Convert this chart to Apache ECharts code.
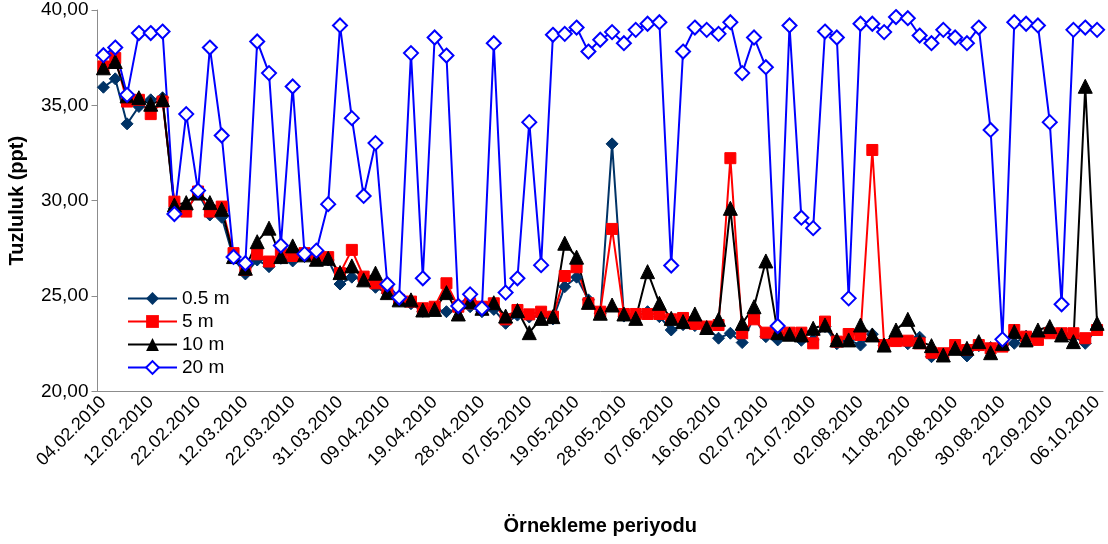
<!DOCTYPE html>
<html><head><meta charset="utf-8">
<script src="https://cdn.jsdelivr.net/npm/echarts@6/dist/echarts.min.js"></script>
<style>html,body{margin:0;padding:0;background:#fff}#c{width:1108px;height:544px}</style>
</head><body><div id="c"></div>
<script>
// tick labels shown every 4th sampling
const tickLabels = ['04.02.2010','12.02.2010','22.02.2010','12.03.2010','22.03.2010','31.03.2010','09.04.2010','19.04.2010','28.04.2010','07.05.2010','19.05.2010','28.05.2010','07.06.2010','16.06.2010','02.07.2010','21.07.2010','02.08.2010','11.08.2010','20.08.2010','30.08.2010','22.09.2010','06.10.2010'];
const seriesNames = ['0.5 m','5 m','10 m','20 m'];
const d05 = [35.95,36.39,34.03,34.94,35.29,35.40,29.60,29.50,30.40,29.25,29.13,26.98,26.16,26.89,26.54,26.98,26.84,27.07,26.89,26.89,25.63,25.99,25.85,25.46,25.15,24.75,24.60,24.20,24.30,24.18,24.30,24.44,24.18,24.30,23.57,24.00,23.90,23.95,23.80,25.49,25.99,24.80,24.10,32.98,23.95,23.90,24.18,23.92,23.22,23.50,23.45,23.35,22.79,23.05,22.56,23.90,22.87,22.70,23.00,22.68,22.70,23.40,22.50,22.70,22.43,23.00,22.40,22.70,22.50,22.84,21.82,21.95,22.30,21.86,22.40,22.30,22.40,22.52,22.90,23.00,23.10,23.00,22.90,22.52,23.30];
const d5 = [37.04,37.48,35.20,35.29,34.54,35.20,29.95,29.43,30.48,29.43,29.69,27.25,26.37,27.19,26.81,27.25,27.10,27.25,27.07,27.04,26.20,27.42,26.02,25.67,25.41,24.80,24.71,24.36,24.44,25.67,24.44,24.62,24.44,24.62,23.78,24.27,24.04,24.18,23.92,26.05,26.51,24.62,24.18,28.52,24.06,24.06,24.06,24.06,23.78,23.85,23.54,23.40,23.48,32.23,23.05,23.78,23.08,23.08,23.08,23.08,22.52,23.66,22.61,23.01,22.96,32.66,22.43,22.64,22.66,22.52,22.03,22.00,22.43,22.17,22.43,22.26,22.35,23.22,22.87,22.70,23.05,23.05,23.05,22.79,23.22];
const d10 = [36.97,37.30,35.50,35.40,35.06,35.30,29.78,29.90,30.40,29.90,29.55,27.07,26.46,27.85,28.56,27.07,27.63,27.16,26.93,26.98,26.23,26.58,25.85,26.20,25.18,24.80,24.80,24.27,24.30,25.18,24.06,24.71,24.36,24.65,23.95,24.24,23.08,23.83,23.92,27.77,27.04,24.67,24.10,24.53,24.06,23.83,26.28,24.62,23.83,23.66,24.06,23.35,23.78,29.60,23.57,24.44,26.84,23.08,23.00,22.96,23.31,23.48,22.70,22.70,23.48,22.96,22.43,23.22,23.78,22.61,22.40,21.91,22.26,22.26,22.61,22.03,22.52,23.13,22.70,23.22,23.40,22.96,22.61,36.00,23.57];
const d20 = [37.63,38.03,35.55,38.79,38.79,38.87,29.30,34.54,30.53,38.03,33.42,27.05,26.72,38.35,36.69,27.65,35.99,27.21,27.38,29.82,39.19,34.33,30.25,33.02,25.62,24.92,37.74,25.93,38.56,37.61,24.48,25.09,24.36,38.26,25.18,25.93,34.12,26.62,38.70,38.75,39.08,37.82,38.44,38.84,38.26,38.96,39.28,39.36,26.60,37.82,39.08,38.96,38.75,39.36,36.69,38.56,37.00,23.43,39.19,29.11,28.56,38.87,38.56,24.88,39.28,39.28,38.84,39.63,39.57,38.66,38.26,38.96,38.56,38.26,39.08,33.71,22.73,39.36,39.28,39.19,34.12,24.57,38.96,39.08,38.96];

const categories = d05.map((_, i) => String(i));
const FONT = '"Liberation Sans", Arial, sans-serif';
const axisGray = '#8c8c8c';

const chart = echarts.init(document.getElementById('c'), null, {renderer: 'canvas'});
function lineSeries(name, data, color, symbol, size, extra) {
  return Object.assign({
    name, type: 'line', data, symbol, symbolSize: size,
    showAllSymbol: true,
    animation: false,
    lineStyle: {color, width: 2},
    itemStyle: {color, borderColor: color},
    emphasis: {disabled: true}
  }, extra || {});
}
chart.setOption({
  backgroundColor: '#fff',
  animation: false,
  textStyle: {fontFamily: FONT},
  grid: {left: 97.5, right: 5, top: 10, bottom: 152.6, containLabel: false, outerBoundsMode: 'none'},
  legend: {
    orient: 'vertical', left: 122, top: 284,
    itemWidth: 49, itemHeight: 16, itemGap: 4,
    data: seriesNames,
    textStyle: {fontSize: 19, color: '#000', fontFamily: FONT}
  },
  xAxis: {
    type: 'category', data: categories, boundaryGap: true,
    name: 'Örnekleme periyodu', nameLocation: 'middle', nameGap: 125,
    nameTextStyle: {fontSize: 20, fontWeight: 'bold', color: '#000', fontFamily: FONT},
    axisLine: {lineStyle: {color: axisGray, width: 1}},
    axisTick: {interval: 1, length: 6, lineStyle: {color: axisGray}},
    axisLabel: {
      interval: 3, rotate: 45, fontSize: 18, color: '#000', margin: 8, fontFamily: FONT,
      formatter: (v) => { const i = +v; return i % 4 === 0 ? (tickLabels[i / 4] || '') : ''; }
    },
    splitLine: {show: false}
  },
  yAxis: {
    type: 'value', min: 20, max: 40, interval: 5,
    name: 'Tuzluluk (ppt)', nameLocation: 'middle', nameGap: 70,
    nameTextStyle: {fontSize: 20, fontWeight: 'bold', color: '#000', fontFamily: FONT},
    axisLine: {show: true, lineStyle: {color: axisGray, width: 1}},
    axisTick: {show: true, length: 6, lineStyle: {color: axisGray}},
    axisLabel: {fontSize: 19, color: '#000', margin: 9, fontFamily: FONT,
      formatter: (v) => v.toFixed(2).replace('.', ',')},
    splitLine: {show: false}
  },
  series: [
    lineSeries('0.5 m', d05, '#003366', 'diamond', 12),
    lineSeries('5 m', d5, '#ff0000', 'rect', 11),
    lineSeries('10 m', d10, '#000000', 'triangle', 14),
    lineSeries('20 m', d20, '#0000ff', 'diamond', 14, {
      itemStyle: {color: '#ffffff', borderColor: '#0000ff', borderWidth: 2}
    })
  ]
});
</script></body></html>
